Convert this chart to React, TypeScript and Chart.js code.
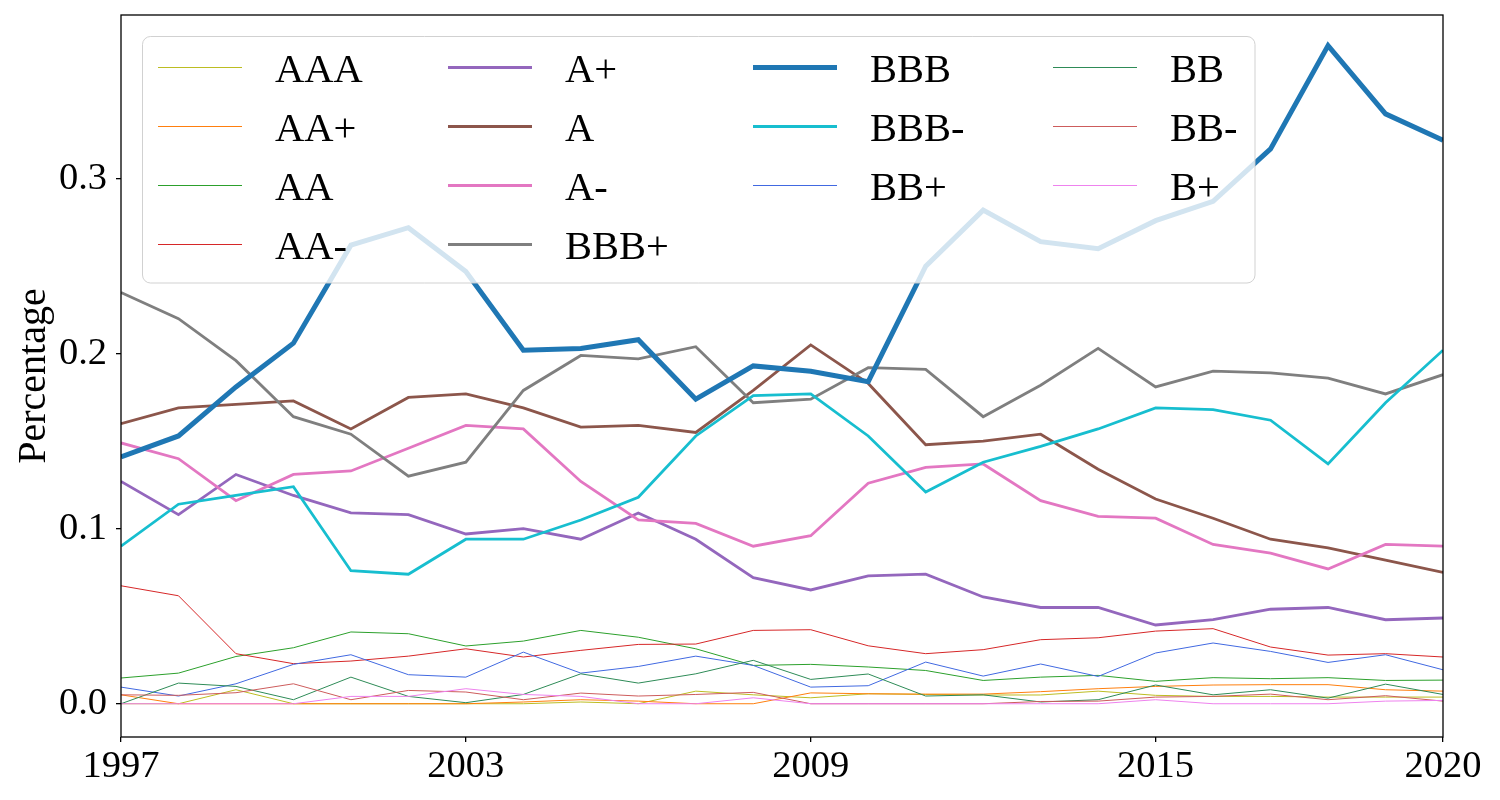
import { useEffect, useRef } from 'react';
import { Chart, registerables, Plugin } from 'chart.js';

Chart.register(...registerables);

const FONT = "'Liberation Serif', 'Times New Roman', serif";

const years = [
  1997, 1998, 1999, 2000, 2001, 2002, 2003, 2004, 2005, 2006, 2007, 2008,
  2009, 2010, 2011, 2012, 2013, 2014, 2015, 2016, 2017, 2018, 2019, 2020,
];

const xTicks = [1997, 2003, 2009, 2015, 2020];
const yTicks = [0, 0.1, 0.2, 0.3];

const ratings = ['AAA', 'AA+', 'AA', 'AA-', 'A+', 'A', 'A-', 'BBB+', 'BBB', 'BBB-', 'BB+', 'BB', 'BB-', 'B+'];

const aaa = [0, 0, 0.008, 0, 0, 0, 0, 0, 0.001, 0, 0.0072, 0.0051, 0.0034, 0.0057, 0.0053, 0.005, 0.005, 0.0072, 0.0048, 0.0042, 0.0042, 0.0038, 0.0038, 0.0038];
const aaPlus = [0.0051, 0, 0, 0, 0, 0, 0, 0.001, 0.0023, 0.0015, 0, 0, 0.0062, 0.0057, 0.0055, 0.0055, 0.0069, 0.0086, 0.0099, 0.0107, 0.0109, 0.0109, 0.008, 0.0072];
const aa = [0.0147, 0.0175, 0.027, 0.032, 0.041, 0.040, 0.033, 0.0358, 0.0419, 0.038, 0.0314, 0.0219, 0.0225, 0.021, 0.019, 0.0133, 0.0152, 0.0162, 0.0128, 0.0149, 0.0143, 0.0149, 0.0133, 0.0135];
const aaMinus = [0.0674, 0.0617, 0.0286, 0.0229, 0.0244, 0.0272, 0.0314, 0.0267, 0.0305, 0.0339, 0.0341, 0.0419, 0.0423, 0.0331, 0.0286, 0.0309, 0.0366, 0.0377, 0.0415, 0.0429, 0.0324, 0.0278, 0.0286, 0.0267];
const aPlus = [0.127, 0.108, 0.131, 0.119, 0.109, 0.108, 0.097, 0.100, 0.094, 0.109, 0.094, 0.072, 0.065, 0.073, 0.074, 0.061, 0.055, 0.055, 0.045, 0.048, 0.054, 0.055, 0.048, 0.049];
const aMid = [0.160, 0.169, 0.171, 0.173, 0.157, 0.175, 0.177, 0.169, 0.158, 0.159, 0.155, 0.179, 0.205, 0.183, 0.148, 0.150, 0.154, 0.134, 0.117, 0.106, 0.094, 0.089, 0.082, 0.075];
const aMinus = [0.149, 0.140, 0.116, 0.131, 0.133, 0.146, 0.159, 0.157, 0.127, 0.105, 0.103, 0.090, 0.096, 0.126, 0.135, 0.137, 0.116, 0.107, 0.106, 0.091, 0.086, 0.077, 0.091, 0.090];
const bbbPlus = [0.235, 0.220, 0.196, 0.164, 0.154, 0.130, 0.138, 0.179, 0.199, 0.197, 0.204, 0.172, 0.174, 0.192, 0.191, 0.164, 0.182, 0.203, 0.181, 0.190, 0.189, 0.186, 0.177, 0.188];
const bbb = [0.141, 0.153, 0.181, 0.206, 0.262, 0.272, 0.247, 0.202, 0.203, 0.208, 0.174, 0.193, 0.190, 0.184, 0.250, 0.282, 0.264, 0.260, 0.276, 0.287, 0.317, 0.376, 0.337, 0.322];
const bbbMinus = [0.090, 0.114, 0.119, 0.124, 0.076, 0.074, 0.094, 0.094, 0.105, 0.118, 0.153, 0.176, 0.177, 0.153, 0.121, 0.138, 0.147, 0.157, 0.169, 0.168, 0.162, 0.137, 0.172, 0.202];
const bbPlus = [0.0095, 0.0044, 0.0114, 0.0225, 0.028, 0.0166, 0.0152, 0.0295, 0.0175, 0.0213, 0.0272, 0.0219, 0.0095, 0.0103, 0.0238, 0.0158, 0.0227, 0.0156, 0.029, 0.0347, 0.0299, 0.0236, 0.028, 0.0194];
const bb = [0, 0.0118, 0.0099, 0.0023, 0.0152, 0.0042, 0.0006, 0.0053, 0.0171, 0.0118, 0.0171, 0.0248, 0.0139, 0.017, 0.0044, 0.0051, 0.001, 0.0023, 0.0107, 0.0051, 0.008, 0.0032, 0.0112, 0.0053];
const bbMinus = [0.0051, 0.0048, 0.0063, 0.0114, 0.0023, 0.0076, 0.0067, 0.0023, 0.0061, 0.0044, 0.0053, 0.0065, 0, 0, 0, 0, 0.0013, 0.0015, 0.0038, 0.0042, 0.0055, 0.0023, 0.0046, 0.0015];
const bPlus = [0, 0, 0, 0, 0.0042, 0.0042, 0.0086, 0.0053, 0.0042, 0, 0, 0.0034, 0, 0, 0, 0, 0, 0, 0.0023, 0, 0, 0, 0.0015, 0.0019];

const seriesValues = [aaa, aaPlus, aa, aaMinus, aPlus, aMid, aMinus, bbbPlus, bbb, bbbMinus, bbPlus, bb, bbMinus, bPlus];

// line styles, same order as ratings
const lineColors = [
  '#bcbd22', '#ff7f0e', '#2ca02c', '#d62728', '#9467bd', '#8c564b', '#e377c2',
  '#7f7f7f', '#1f77b4', '#17becf', '#4169e1', '#2e8b57', '#cd5c5c', '#ee82ee',
];
const lineWidths = [1, 1, 1, 1, 2.8, 2.8, 2.8, 2.8, 5, 2.8, 1, 1, 1, 1];

// spines on all four sides, drawn over the lines like matplotlib
const framePlugin: Plugin<'line'> = {
  id: 'frame',
  afterDatasetsDraw(chart) {
    const { ctx, chartArea: a } = chart;
    ctx.save();
    ctx.strokeStyle = '#000';
    ctx.lineWidth = 1.3;
    ctx.strokeRect(a.left, a.top, a.right - a.left, a.bottom - a.top);
    ctx.restore();
  },
};

// matplotlib style legend: 4 columns filled column by column, translucent box
const legendPlugin: Plugin<'line'> = {
  id: 'boxLegend',
  afterDatasetsDraw(chart) {
    const ctx = chart.ctx;
    const colX = [158, 448, 753, 1053];
    const colStart = [0, 4, 8, 11];
    ctx.save();
    ctx.beginPath();
    ctx.roundRect(142.5, 36.5, 1112.5, 246.5, 8);
    ctx.fillStyle = 'rgba(255,255,255,0.8)';
    ctx.fill();
    ctx.strokeStyle = 'rgba(204,204,204,0.9)';
    ctx.lineWidth = 1;
    ctx.stroke();

    ctx.font = `40.5px ${FONT}`;
    ctx.fillStyle = '#000';
    ctx.textBaseline = 'alphabetic';
    ctx.textAlign = 'left';
    chart.data.datasets.forEach((ds, i) => {
      let col = 0;
      while (col < 3 && i >= colStart[col + 1]) col++;
      const row = i - colStart[col];
      const x = colX[col];
      const y = 67.5 + row * 59;
      ctx.beginPath();
      ctx.strokeStyle = ds.borderColor as string;
      ctx.lineWidth = ds.borderWidth as number;
      ctx.moveTo(x, y);
      ctx.lineTo(x + 84, y);
      ctx.stroke();
      ctx.fillText(ds.label as string, x + 117, y + 14);
    });
    ctx.restore();
  },
};

const ChartView = () => {
  const canvasRef = useRef<HTMLCanvasElement>(null);

  useEffect(() => {
    const canvas = canvasRef.current;
    if (!canvas) return;

    const chart = new Chart(canvas, {
      type: 'line',
      data: {
        labels: years,
        datasets: ratings.map((r, i) => ({
          label: r,
          data: seriesValues[i],
          borderColor: lineColors[i],
          backgroundColor: lineColors[i],
          borderWidth: lineWidths[i],
          pointRadius: 0,
          tension: 0,
          fill: false,
          order: -i,
        })),
      },
      options: {
        animation: false,
        responsive: true,
        maintainAspectRatio: false,
        layout: { padding: { top: 15, right: 57, bottom: 0, left: 0 } },
        plugins: {
          legend: { display: false },
          tooltip: { enabled: false },
        },
        scales: {
          x: {
            type: 'linear',
            min: 1997,
            max: 2020,
            border: { display: false },
            grid: { drawOnChartArea: false, drawTicks: true, tickLength: 5, color: '#000', lineWidth: 1.3 },
            ticks: {
              color: '#000',
              font: { family: FONT, size: 38.5 },
              padding: 2,
              maxRotation: 0,
              autoSkip: false,
              callback: (v) => String(v),
            },
            afterBuildTicks: (s) => {
              s.ticks = xTicks.map((v) => ({ value: v }));
            },
            afterFit: (s) => {
              s.height = 63;
              s.paddingLeft = 0;
              s.paddingRight = 0;
            },
          },
          y: {
            min: -0.019,
            max: 0.3935,
            border: { display: false },
            grid: { drawOnChartArea: false, drawTicks: true, tickLength: 5, color: '#000', lineWidth: 1.3 },
            ticks: {
              color: '#000',
              font: { family: FONT, size: 38.5 },
              padding: 9,
              callback: (v) => Number(v).toFixed(1),
            },
            afterBuildTicks: (s) => {
              s.ticks = yTicks.map((v) => ({ value: v }));
            },
            title: {
              display: true,
              text: 'Percentage',
              color: '#000',
              font: { family: FONT, size: 40 },
              padding: { top: 10, bottom: 0 },
            },
            afterFit: (s) => {
              s.width = 121;
              s.paddingTop = 0;
              s.paddingBottom = 0;
            },
          },
        },
      },
      plugins: [framePlugin, legendPlugin],
    });

    return () => {
      chart.destroy();
    };
  }, []);

  return (
    <div style={{ position: 'fixed', left: 0, top: 0, width: 1500, height: 800, background: '#fff' }}>
      <canvas ref={canvasRef}></canvas>
    </div>
  );
};

export default function App() {
  return <ChartView />;
}
